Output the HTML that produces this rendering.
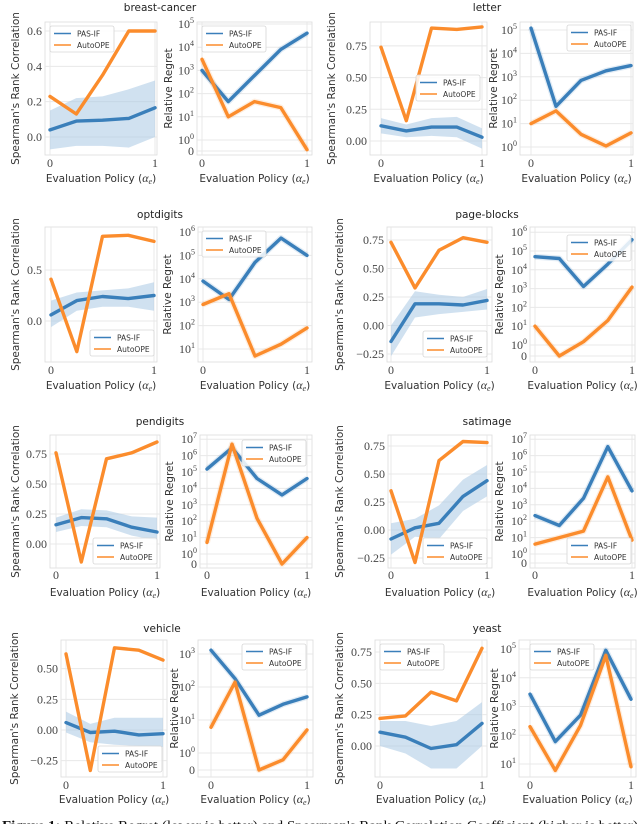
<!DOCTYPE html>
<html><head><meta charset="utf-8"><style>
html,body{margin:0;padding:0;background:#fff;}
svg{display:block;}
.tick{font-family:"Liberation Serif",serif;font-size:12px;fill:#444;}
.lab{font-family:"DejaVu Sans","Liberation Sans",sans-serif;font-size:10.5px;fill:#333;}
.ttl{font-family:"DejaVu Sans","Liberation Sans",sans-serif;font-size:10.5px;fill:#222;}
.leg{font-family:"DejaVu Sans","Liberation Sans",sans-serif;font-size:7.5px;fill:#333;}
</style></head><body>
<svg id="fig" width="640" height="824" viewBox="0 0 640 824" xmlns="http://www.w3.org/2000/svg">
<text x="2" y="830" style="font-family:'Liberation Serif',serif;font-size:13.5px;fill:#111;" textLength="636" lengthAdjust="spacingAndGlyphs"><tspan font-weight="bold">Figure 1:</tspan> Relative Regret (lower is better) and Spearman's Rank Correlation Coefficient (higher is better)</text>
</svg>
<script>
// ---- data (x = evaluation policy alpha_e) ----
const xVals = [0, 0.25, 0.5, 0.75, 1];

const bcCorrPas = [0.04, 0.09, 0.095, 0.105, 0.165];
const bcCorrLo = [-0.07, -0.05, -0.05, -0.06, 0.0];
const bcCorrHi = [0.15, 0.22, 0.23, 0.27, 0.32];
const bcCorrAuto = [0.23, 0.13, 0.35, 0.6, 0.6];
const bcRegPas = [1000, 45, 600, 8000, 40000];
const bcRegAuto = [3000, 10, 45, 25, 0.12];
const bcCorrTicks = [0, 0.2, 0.4, 0.6];

const letCorrPas = [0.12, 0.08, 0.11, 0.11, 0.03];
const letCorrLo = [0.06, 0.03, 0.04, 0.03, -0.06];
const letCorrHi = [0.18, 0.13, 0.18, 0.19, 0.1];
const letCorrAuto = [0.74, 0.16, 0.89, 0.88, 0.9];
const letRegPas = [120000, 55, 700, 1800, 3000];
const letRegAuto = [10, 35, 3.5, 1.1, 4];
const letCorrTicks = [0, 0.25, 0.5, 0.75];

const optCorrPas = [0.06, 0.2, 0.24, 0.22, 0.25];
const optCorrLo = [-0.06, 0.1, 0.14, 0.14, 0.1];
const optCorrHi = [0.2, 0.28, 0.3, 0.32, 0.38];
const optCorrAuto = [0.41, -0.3, 0.83, 0.84, 0.78];
const optRegPas = [8000, 1300, 50000, 550000, 100000];
const optRegAuto = [800, 2300, 5, 16, 80];
const optCorrTicks = [0, 0.5];

const pbCorrPas = [-0.14, 0.19, 0.19, 0.18, 0.22];
const pbCorrLo = [-0.27, 0.07, 0.1, 0.12, 0.14];
const pbCorrHi = [0.0, 0.3, 0.27, 0.25, 0.32];
const pbCorrAuto = [0.73, 0.33, 0.66, 0.77, 0.73];
const pbRegPas = [50000, 40000, 1300, 20000, 400000];
const pbRegAuto = [10, 0, 1.5, 20, 1200];
const pbCorrTicks = [-0.25, 0, 0.25, 0.5, 0.75];

const penCorrPas = [0.16, 0.22, 0.21, 0.14, 0.1];
const penCorrLo = [0.1, 0.15, 0.14, 0.07, 0.03];
const penCorrHi = [0.22, 0.29, 0.28, 0.23, 0.22];
const penCorrAuto = [0.76, -0.15, 0.71, 0.76, 0.85];
const penRegPas = [150000, 3000000, 40000, 4000, 40000];
const penRegAuto = [5, 5000000, 150, 0, 10];
const penCorrTicks = [0, 0.25, 0.5, 0.75];

const satCorrPas = [-0.08, 0.02, 0.06, 0.3, 0.44];
const satCorrLo = [-0.22, -0.06, -0.08, 0.17, 0.3];
const satCorrHi = [0.06, 0.1, 0.22, 0.45, 0.58];
const satCorrAuto = [0.35, -0.29, 0.62, 0.79, 0.78];
const satRegPas = [220, 55, 2500, 3500000, 7000];
const satRegAuto = [4, 10, 25, 50000, 7];
const satCorrTicks = [-0.25, 0, 0.25, 0.5, 0.75];

const vehCorrPas = [0.06, -0.02, -0.01, -0.04, -0.03];
const vehCorrLo = [-0.02, -0.1, -0.12, -0.13, -0.14];
const vehCorrHi = [0.15, 0.05, 0.1, 0.1, 0.1];
const vehCorrAuto = [0.62, -0.33, 0.67, 0.65, 0.57];
const vehRegPas = [1300, 180, 14, 30, 50];
const vehRegAuto = [6, 140, 0, 0.6, 5];
const vehCorrTicks = [-0.25, 0, 0.25, 0.5];

const yeaCorrPas = [0.11, 0.07, -0.02, 0.01, 0.18];
const yeaCorrLo = [0.0, -0.06, -0.18, -0.18, 0.0];
const yeaCorrHi = [0.2, 0.2, 0.16, 0.2, 0.35];
const yeaCorrAuto = [0.22, 0.24, 0.43, 0.36, 0.78];
const yeaRegPas = [2700, 60, 500, 90000, 1800];
const yeaRegAuto = [200, 6, 220, 60000, 8];
const yeaCorrTicks = [0, 0.25, 0.5, 0.75];

const seriesNames = ["PAS-IF", "AutoOPE"];

// ---- drawing ----
const NS = "http://www.w3.org/2000/svg";
const svg = document.getElementById("fig");
const BLUE = "#3a7fba", ORANGE = "#fb8c2c";
function mk(tag, attrs, parent) {
  const e = document.createElementNS(NS, tag);
  for (const k in attrs) e.setAttribute(k, attrs[k]);
  (parent || svg).appendChild(e);
  return e;
}
let clipId = 0;
function fmt(v, d) { const s = Math.abs(v).toFixed(d); return (v < 0 ? "\u2212" : "") + s; }

function panel(p) {
  const g = mk("g", {});
  
  
  const [fx0, fx1, fy0, fy1] = p.frame;
  const xs = v => p.xp[0] + (p.xp[1] - p.xp[0]) * v;
  let ys;
  if (p.log) {
    ys = v => v <= 1 ? p.pZero - v * (p.pZero - p.p1) : p.p1 - Math.log10(v) * p.D;
  } else {
    ys = v => p.zeroPx - v * p.k;
  }
  const frame = mk("rect", {x: fx0, y: fy0, width: fx1 - fx0, height: fy1 - fy0, fill: "#fff", stroke: "#dcdcdc", "stroke-width": 0.8}, g);
  
  
  const tickVals = [];
  if (p.log) {
    if (p.zero) tickVals.push({v: 0, t: "0"});
    for (let e = p.e0; e <= p.e1; e++) tickVals.push({v: Math.pow(10, e), e: e});
  } else {
    p.ticks.forEach(v => tickVals.push({v: v, t: fmt(v, p.dec)}));
  }
  tickVals.forEach(tv => {
    const y = ys(tv.v);
    const gl = mk("line", {x1: fx0, x2: fx1, y1: y, y2: y, stroke: "#e8e8e8", "stroke-width": 1}, g);
    
    
    const t = mk("text", {x: fx0 - 3, y: y + 4, "text-anchor": "end", class: "tick"}, g);
    
    
    if (tv.e !== undefined) {
      t.textContent = "10";
      const s = mk("tspan", {dy: -5, "font-size": "8px"}, t);
      s.textContent = String(tv.e);
    } else t.textContent = tv.t;
  });
  [0, 1].forEach(v => {
    const x = xs(v);
    const gl = mk("line", {x1: x, x2: x, y1: fy0, y2: fy1, stroke: "#e8e8e8", "stroke-width": 1}, g);
    
    
    const t = mk("text", {x: x, y: p.xtickY + 4, "text-anchor": "middle", class: "tick"}, g);
    
    
    t.textContent = String(v);
  });
  const cid = "c" + (clipId++);
  const cp = mk("clipPath", {id: cid}, g);
  mk("rect", {x: fx0, y: fy0, width: fx1 - fx0, height: fy1 - fy0}, cp);
  const pg = mk("g", {"clip-path": "url(#" + cid + ")"}, g);
  if (p.lo) {
    let d = "";
    xVals.forEach((x, i) => { d += (i ? "L" : "M") + xs(x) + "," + ys(p.hi[i]); });
    for (let i = xVals.length - 1; i >= 0; i--) d += "L" + xs(xVals[i]) + "," + ys(p.lo[i]);
    const band = mk("path", {d: d + "Z", fill: "#a9c9e4", "fill-opacity": 0.55}, pg);
    
    
  }
  [[p.pas, BLUE, 'pas-if-line'], [p.auto, ORANGE, 'autoope-line']].forEach(s => {
    let d = "";
    xVals.forEach((x, i) => { d += (i ? "L" : "M") + xs(x).toFixed(1) + "," + ys(s[0][i]).toFixed(1); });
    if (p.log) {
      const halo = mk("path", {d: d, fill: "none", stroke: s[1], "stroke-opacity": 0.15, "stroke-width": 6, "stroke-linejoin": "round"}, pg);
      
      
    }
    const ln = mk("path", {d: d, fill: "none", stroke: s[1], "stroke-width": 3.4, "stroke-linejoin": "round", "stroke-linecap": "round"}, pg);
    
    
  });
  const [lx, ly] = p.leg;
  const lg = mk("g", {}, g);
  
  
  mk("rect", {x: lx, y: ly, width: 64, height: 26, rx: 2, fill: "#fff", "fill-opacity": 0.85, stroke: "#d6d6d6", "stroke-width": 0.8}, lg);
  seriesNames.forEach((n, i) => {
    const yy = ly + 7.5 + i * 11.5;
    const sw = mk("line", {x1: lx + 4, x2: lx + 21, y1: yy, y2: yy, stroke: i ? ORANGE : BLUE, "stroke-width": 1.6}, lg);
    
    
    const t = mk("text", {x: lx + 27, y: yy + 2.8, class: "leg"}, lg);
    
    
    t.textContent = n;
  });
  const cx = (fx0 + fx1) / 2;
  const xl = mk("text", {x: cx, y: p.xlabY + 4, "text-anchor": "middle", class: "lab"}, g);
  
  
  xl.appendChild(document.createTextNode("Evaluation Policy ("));
  const a = mk("tspan", {"font-family": "Liberation Serif,serif", "font-style": "italic", "font-size": "12px"}, xl);
  a.textContent = "\u03b1";
  const sub = mk("tspan", {"font-family": "Liberation Serif,serif", "font-style": "italic", "font-size": "8px", dy: 2}, xl);
  sub.textContent = "e";
  const cl = mk("tspan", {dy: -2}, xl);
  cl.textContent = ")";
  const cyc = (fy0 + fy1) / 2;
  const yl = mk("text", {x: p.ylabX, y: cyc, "text-anchor": "middle", class: "lab", transform: "rotate(-90 " + p.ylabX + " " + cyc + ")"}, g);
  
  
  yl.textContent = p.log ? "Relative Regret" : "Spearman's Rank Correlation";
}

function title(txt, x, y, name) {
  const t = mk("text", {x: x, y: y + 4, "text-anchor": "middle", class: "ttl"});
  
  
  t.textContent = txt;
}

title("breast-cancer", 160, 7, "title-breast-cancer");
panel({name: "breast-cancer-correlation", frame: [45, 157, 22, 155], xp: [50, 155], zeroPx: 137, k: 176.7, ticks: bcCorrTicks, dec: 1, pas: bcCorrPas, lo: bcCorrLo, hi: bcCorrHi, auto: bcCorrAuto, leg: [50, 26], xtickY: 163, xlabY: 178, ylabX: 19});
panel({name: "breast-cancer-regret", frame: [197, 312, 22, 155], xp: [202, 307], log: true, pZero: 151, p1: 140, D: 23.2, e0: 0, e1: 5, zero: true, pas: bcRegPas, auto: bcRegAuto, leg: [202, 26], xtickY: 163, xlabY: 178, ylabX: 172});
title("letter", 487, 7, "title-letter");
panel({name: "letter-correlation", frame: [370, 487, 22, 155], xp: [381, 482], zeroPx: 141, k: 126.8, ticks: letCorrTicks, dec: 2, pas: letCorrPas, lo: letCorrLo, hi: letCorrHi, auto: letCorrAuto, leg: [416, 75], xtickY: 163, xlabY: 178, ylabX: 335});
panel({name: "letter-regret", frame: [520, 633, 22, 155], xp: [531, 631], log: true, pZero: 159, p1: 147, D: 23.4, e0: 0, e1: 5, zero: false, pas: letRegPas, auto: letRegAuto, leg: [567, 25], xtickY: 163, xlabY: 178, ylabX: 497});
title("optdigits", 160, 214, "title-optdigits");
panel({name: "optdigits-correlation", frame: [45, 157, 227, 362], xp: [51, 154], zeroPx: 321, k: 102, ticks: optCorrTicks, dec: 1, pas: optCorrPas, lo: optCorrLo, hi: optCorrHi, auto: optCorrAuto, leg: [90, 330], xtickY: 370, xlabY: 385, ylabX: 19});
panel({name: "optdigits-regret", frame: [198, 312, 227, 362], xp: [203, 307], log: true, pZero: 384, p1: 372.4, D: 23.4, e0: 1, e1: 6, zero: false, pas: optRegPas, auto: optRegAuto, leg: [202, 231], xtickY: 370, xlabY: 385, ylabX: 171});
title("page-blocks", 487, 214, "title-page-blocks");
panel({name: "page-blocks-correlation", frame: [387, 492, 227, 362], xp: [391, 487], zeroPx: 325.5, k: 114, ticks: pbCorrTicks, dec: 2, pas: pbCorrPas, lo: pbCorrLo, hi: pbCorrHi, auto: pbCorrAuto, leg: [423, 331], xtickY: 370, xlabY: 385, ylabX: 343});
panel({name: "page-blocks-regret", frame: [530, 635, 227, 362], xp: [535, 632], log: true, pZero: 356, p1: 345, D: 18.8, e0: 0, e1: 6, zero: true, pas: pbRegPas, auto: pbRegAuto, leg: [567, 235], xtickY: 370, xlabY: 385, ylabX: 503});
title("pendigits", 160, 421, "title-pendigits");
panel({name: "pendigits-correlation", frame: [50, 160, 435, 568], xp: [56, 157], zeroPx: 544, k: 120, ticks: penCorrTicks, dec: 2, pas: penCorrPas, lo: penCorrLo, hi: penCorrHi, auto: penCorrAuto, leg: [93, 538], xtickY: 575, xlabY: 592, ylabX: 19});
panel({name: "pendigits-regret", frame: [200, 312, 435, 568], xp: [207, 307], log: true, pZero: 564, p1: 554, D: 16.4, e0: 0, e1: 7, zero: true, pas: penRegPas, auto: penRegAuto, leg: [242, 440], xtickY: 575, xlabY: 592, ylabX: 173});
title("satimage", 487, 421, "title-satimage");
panel({name: "satimage-correlation", frame: [388, 492, 435, 568], xp: [391, 487], zeroPx: 530, k: 112, ticks: satCorrTicks, dec: 2, pas: satCorrPas, lo: satCorrLo, hi: satCorrHi, auto: satCorrAuto, leg: [423, 538], xtickY: 575, xlabY: 592, ylabX: 343});
panel({name: "satimage-regret", frame: [530, 635, 435, 568], xp: [535, 632], log: true, pZero: 563, p1: 554, D: 16.4, e0: 0, e1: 7, zero: true, pas: satRegPas, auto: satRegAuto, leg: [567, 538], xtickY: 575, xlabY: 592, ylabX: 503});
title("vehicle", 162, 628, "title-vehicle");
panel({name: "vehicle-correlation", frame: [61, 167, 640, 777], xp: [66, 163], zeroPx: 730, k: 122.7, ticks: vehCorrTicks, dec: 2, pas: vehCorrPas, lo: vehCorrLo, hi: vehCorrHi, auto: vehCorrAuto, leg: [98, 746], xtickY: 785, xlabY: 799, ylabX: 18});
panel({name: "vehicle-regret", frame: [198, 313, 640, 777], xp: [211, 307], log: true, pZero: 770, p1: 753, D: 33, e0: 0, e1: 3, zero: true, pas: vehRegPas, auto: vehRegAuto, leg: [242, 644], xtickY: 785, xlabY: 799, ylabX: 178});
title("yeast", 487, 628, "title-yeast");
panel({name: "yeast-correlation", frame: [375, 487, 640, 777], xp: [380, 482], zeroPx: 746, k: 125.3, ticks: yeaCorrTicks, dec: 2, pas: yeaCorrPas, lo: yeaCorrLo, hi: yeaCorrHi, auto: yeaCorrAuto, leg: [380, 644], xtickY: 785, xlabY: 799, ylabX: 343});
panel({name: "yeast-regret", frame: [519, 636, 640, 777], xp: [530, 631], log: true, pZero: 805, p1: 792.75, D: 28.75, e0: 1, e1: 5, zero: false, pas: yeaRegPas, auto: yeaRegAuto, leg: [530, 644], xtickY: 785, xlabY: 799, ylabX: 498});
</script>
</body></html>
